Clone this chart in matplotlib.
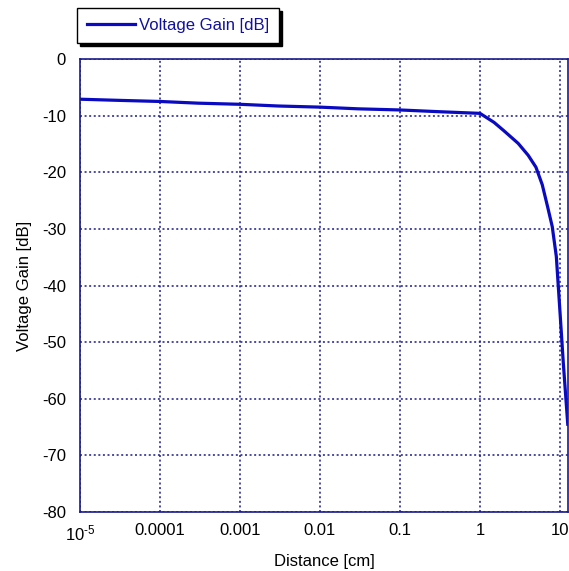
import matplotlib
matplotlib.use("Agg")
import matplotlib.pyplot as plt
from matplotlib.ticker import FixedLocator, FixedFormatter, NullLocator

# Data
distance_cm = [1e-5, 3e-5, 1e-4, 3e-4, 1e-3, 3e-3, 0.01, 0.03, 0.1, 0.3, 1.0,
               1.5, 2.0, 3.0, 4.0, 5.0, 6.0, 7.0, 8.0, 9.0, 10.0, 11.0, 12.5]
gain_db = [-7.1, -7.3, -7.5, -7.8, -8.0, -8.3, -8.5, -8.8, -9.0, -9.3, -9.6,
           -11.2, -12.7, -14.9, -17.0, -19.1, -22.2, -26.1, -29.6, -34.9, -44.7, -53.7, -64.5]
x_ticks = [1e-5, 1e-4, 1e-3, 1e-2, 1e-1, 1, 10]
x_tick_labels = [r'$\mathregular{10^{\text{-}5}}$', '0.0001', '0.001', '0.01', '0.1', '1', '10']
y_ticks = [0, -10, -20, -30, -40, -50, -60, -70, -80]

plt.rcParams['font.family'] = ['Liberation Sans', 'DejaVu Sans']
plt.rcParams['mathtext.fontset'] = 'custom'
plt.rcParams['mathtext.rm'] = 'Liberation Sans'
plt.rcParams['axes.unicode_minus'] = False

W, H = 569, 571
fig = plt.figure(figsize=(W / 100, H / 100), dpi=100)
ax = fig.add_axes([80 / W, 59 / H, (568 - 80) / W, (512 - 59) / H])

navy = '#1a1a8c'
line, = ax.plot(distance_cm, gain_db, color='#0a0ac0', lw=2.3, label='Voltage Gain [dB]',
                solid_joinstyle='round')
ax.set_xscale('log')
ax.set_xlim(1e-5, 10 ** 1.1)
ax.set_ylim(-80, 0)
ax.xaxis.set_major_locator(FixedLocator(x_ticks))
ax.xaxis.set_major_formatter(FixedFormatter(x_tick_labels))
ax.xaxis.set_minor_locator(NullLocator())
ax.set_yticks(y_ticks)
ax.tick_params(length=0, labelsize=12, pad=8)
ax.tick_params(axis='y', pad=10)
ax.grid(True, which='major', color=navy, linestyle=(0, (1.3, 1.7)), linewidth=1.1)
for s in ax.spines.values():
    s.set_color(navy)
    s.set_linewidth(1.2)
ax.set_xlabel('Distance [cm]', fontsize=12, labelpad=8)
ax.set_ylabel('Voltage Gain [dB]', fontsize=12, labelpad=7)

leg = ax.legend(loc='upper left', bbox_to_anchor=(77 / W, 1 - 8 / H),
                bbox_transform=fig.transFigure, borderaxespad=0, fancybox=False,
                shadow={'color': 'black', 'alpha': 1}, edgecolor='black',
                framealpha=1, fontsize=12, handlelength=2.9, handletextpad=0.2,
                borderpad=0.6, labelcolor='#1010a0')
leg.get_frame().set_linewidth(1.0)

fig.savefig('out.png', dpi=100)
